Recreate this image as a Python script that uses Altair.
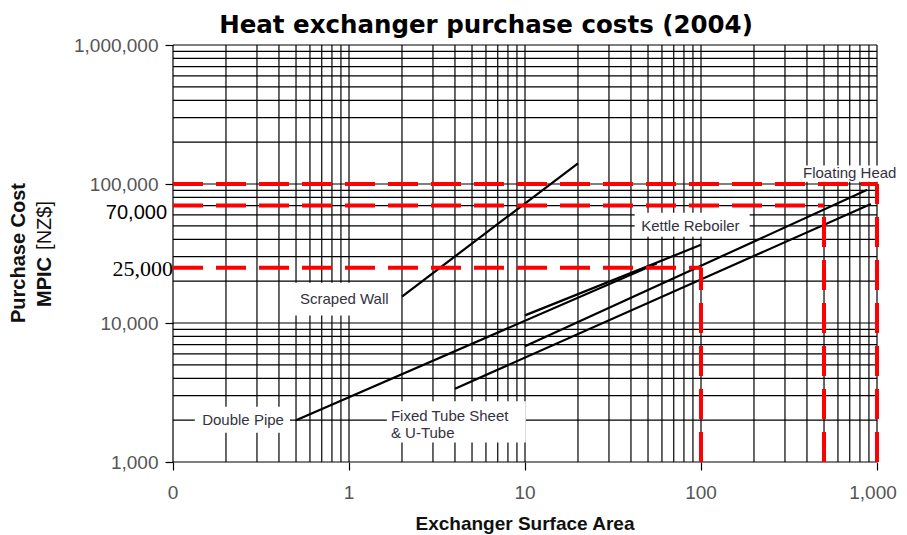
import altair as alt
import pandas as pd

# ---------------- data ----------------
series_names = ["Scraped Wall", "Double Pipe", "Kettle Reboiler", "Floating Head", "Fixed Tube Sheet & U-Tube"]
series_area = [[2, 20], [0.5, 56], [10, 100], [10, 880], [4, 923]]
series_cost = [[15500, 141000], [2000, 26800], [11350, 36500], [6800, 91000], [3370, 71800]]

grid_area = [k * 10 ** e for e in range(-1, 3) for k in range(1, 10)] + [1000]
grid_cost = [k * 10 ** e for e in range(3, 6) for k in range(1, 10)] + [1000000]

x_tick_values = [0.1, 1, 10, 100, 1000]
x_tick_labels = ["0", "1", "10", "100", "1,000"]
y_tick_values = [1000, 10000, 100000, 1000000]

guide_cost = [100000, 70000, 25000]
guide_area = [1000, 500, 100]

extra_cost_labels = ["70,000", "25,000"]
extra_cost_values = [70000, 25000]

label_texts = ["Double Pipe", "Scraped Wall", "Kettle Reboiler", "Floating Head"]
label_x = [0.25, 0.94, 87, 700]
label_y = [2000, 15000, 50000, 120000]
box_x0 = [0.133, 0.474, 42, 390]
box_x1 = [0.462, 1.87, 189, 1500]
box_y0 = [1626, 11300, 41800, 104000]
box_y1 = [2500, 19500, 62200, 135600]

ft_text = ["Fixed Tube Sheet", "& U-Tube"]
ft_x = 1.73
ft_y = 2150
ft_box = (1.64, 10.1, 1384, 2730)

# ---------------- tables ----------------
rows = []
for name, xs_, ys_ in zip(series_names, series_area, series_cost):
    for a, c in zip(xs_, ys_):
        rows.append({"series": name, "area": a, "cost": c})
lines_df = pd.DataFrame(rows)

gx_df = pd.DataFrame({"area": grid_area})
gy_df = pd.DataFrame({"cost": grid_cost})

guides = []
for c, a in zip(guide_cost, guide_area):
    guides.append({"x0": 0.1, "x1": a, "y0": c, "y1": c})
    guides.append({"x0": a, "x1": a, "y0": 1000, "y1": c})
guides_df = pd.DataFrame(guides)

extra_df = pd.DataFrame({"label": extra_cost_labels, "cost": extra_cost_values})
xlab_df = pd.DataFrame({"area": x_tick_values, "label": x_tick_labels})

labels_df = pd.DataFrame({"text": label_texts, "x": label_x, "y": label_y})
boxes_df = pd.DataFrame({
    "x0": box_x0 + [ft_box[0]], "x1": box_x1 + [ft_box[1]],
    "y0": box_y0 + [ft_box[2]], "y1": box_y1 + [ft_box[3]],
})
ft_df = pd.DataFrame({"x": [ft_x], "y": [ft_y], "text": [ft_text]})

# ---------------- scales / axes ----------------
xscale = alt.Scale(type="log", domain=[0.1, 1000], nice=False)
yscale = alt.Scale(type="log", domain=[1000, 1000000], nice=False)

axis_common = dict(grid=False, domain=False, ticks=True, tickSize=8, tickColor="black",
                   tickWidth=1.2, labelFont="Liberation Sans", labelFontSize=19,
                   labelColor="#555555", labelFlush=False, labelOverlap=False, title=None)
xaxis = alt.Axis(values=x_tick_values, labels=False, **axis_common)
yaxis = alt.Axis(values=y_tick_values, format=",", labelPadding=7, **axis_common)

# ---------------- layers ----------------
grid_v = alt.Chart(gx_df).mark_rule(color="black", strokeWidth=1.2).encode(
    x=alt.X("area:Q", scale=xscale, axis=xaxis))
grid_h = alt.Chart(gy_df).mark_rule(color="black", strokeWidth=1.2).encode(
    y=alt.Y("cost:Q", scale=yscale, axis=yaxis))

xlab_style = dict(font="Liberation Sans", fontSize=19, color="#555555",
                  align="center", baseline="alphabetic")
xlabels = alt.Chart(xlab_df.iloc[:4]).mark_text(**xlab_style).encode(
    x=alt.X("area:Q", scale=xscale), y=alt.value(453.5), text="label:N")
xlabel_last = alt.Chart(xlab_df.iloc[4:]).mark_text(dx=-4, **xlab_style).encode(
    x=alt.X("area:Q", scale=xscale), y=alt.value(453.5), text="label:N")

data_lines = alt.Chart(lines_df).mark_line(color="black", strokeWidth=2.2).encode(
    x=alt.X("area:Q", scale=xscale),
    y=alt.Y("cost:Q", scale=yscale),
    detail="series:N")

boxes = alt.Chart(boxes_df).mark_rect(color="white").encode(
    x=alt.X("x0:Q", scale=xscale), x2="x1:Q",
    y=alt.Y("y0:Q", scale=yscale), y2="y1:Q")

labels = alt.Chart(labels_df).mark_text(font="Liberation Sans", fontSize=15, color="#333340",
                                         align="center", baseline="middle").encode(
    x=alt.X("x:Q", scale=xscale), y=alt.Y("y:Q", scale=yscale), text="text:N")

ft_label = alt.Chart(ft_df).mark_text(font="Liberation Sans", fontSize=15, color="#333340",
                                       align="left", baseline="middle", lineHeight=17).encode(
    x=alt.X("x:Q", scale=xscale), y=alt.Y("y:Q", scale=yscale), text="text")

red = alt.Chart(guides_df).mark_rule(color="#ff0000", strokeWidth=4, strokeDash=[30, 13]).encode(
    x=alt.X("x0:Q", scale=xscale), x2="x1:Q",
    y=alt.Y("y0:Q", scale=yscale), y2="y1:Q")

lab70 = alt.Chart(extra_df.iloc[[0]]).mark_text(font="Liberation Sans", fontSize=20, color="black",
                                                 align="right", baseline="middle", dy=7).encode(
    x=alt.value(-6), y=alt.Y("cost:Q", scale=yscale), text="label:N")
lab25 = alt.Chart(extra_df.iloc[[1]]).mark_text(font="Liberation Serif", fontSize=22, color="black",
                                                 align="right", baseline="middle", dy=1).encode(
    x=alt.value(0), y=alt.Y("cost:Q", scale=yscale), text="label:N")

title_df = pd.DataFrame({"t": ["Heat exchanger purchase costs (2004)"]})
title = alt.Chart(title_df).mark_text(font="DejaVu Sans", fontSize=24.5, fontWeight="bold",
                                       color="black", align="center", baseline="alphabetic").encode(
    x=alt.value(313), y=alt.value(-12), text="t:N")

xt_df = pd.DataFrame({"t": ["Exchanger Surface Area"]})
xtitle = alt.Chart(xt_df).mark_text(font="Liberation Sans", fontSize=19, fontWeight="bold",
                                     color="#111111", align="center", baseline="alphabetic").encode(
    x=alt.value(352), y=alt.value(485), text="t:N")

yt1_df = pd.DataFrame({"t": ["Purchase Cost"]})
ytitle1 = alt.Chart(yt1_df).mark_text(font="Liberation Sans", fontSize=20, fontWeight="bold",
                                       color="#111111", align="center", baseline="middle", angle=270).encode(
    x=alt.value(-154), y=alt.value(208), text="t:N")
yt2_df = pd.DataFrame({"t": ["MPIC"]})
ytitle2 = alt.Chart(yt2_df).mark_text(font="Liberation Sans", fontSize=20, fontWeight="bold",
                                       color="#111111", align="left", baseline="middle", angle=270).encode(
    x=alt.value(-128), y=alt.value(262), text="t:N")
yt3_df = pd.DataFrame({"t": ["[NZ$]"]})
ytitle3 = alt.Chart(yt3_df).mark_text(font="Liberation Sans", fontSize=20, fontWeight="normal",
                                       color="#111111", align="right", baseline="middle", angle=270).encode(
    x=alt.value(-128), y=alt.value(156), text="t:N")

chart = alt.layer(
    grid_v, grid_h, xlabels, xlabel_last, data_lines, boxes, labels, ft_label, red, lab70, lab25,
    title, xtitle, ytitle1, ytitle2, ytitle3
).properties(
    width=704, height=417,
    autosize=alt.AutoSizeParams(type="none"),
    padding={"left": 165, "top": 37, "right": 22, "bottom": 72},
    background="white",
).configure_view(stroke=None)

chart.save("out.html", embed_options={"renderer": "svg", "actions": False})
